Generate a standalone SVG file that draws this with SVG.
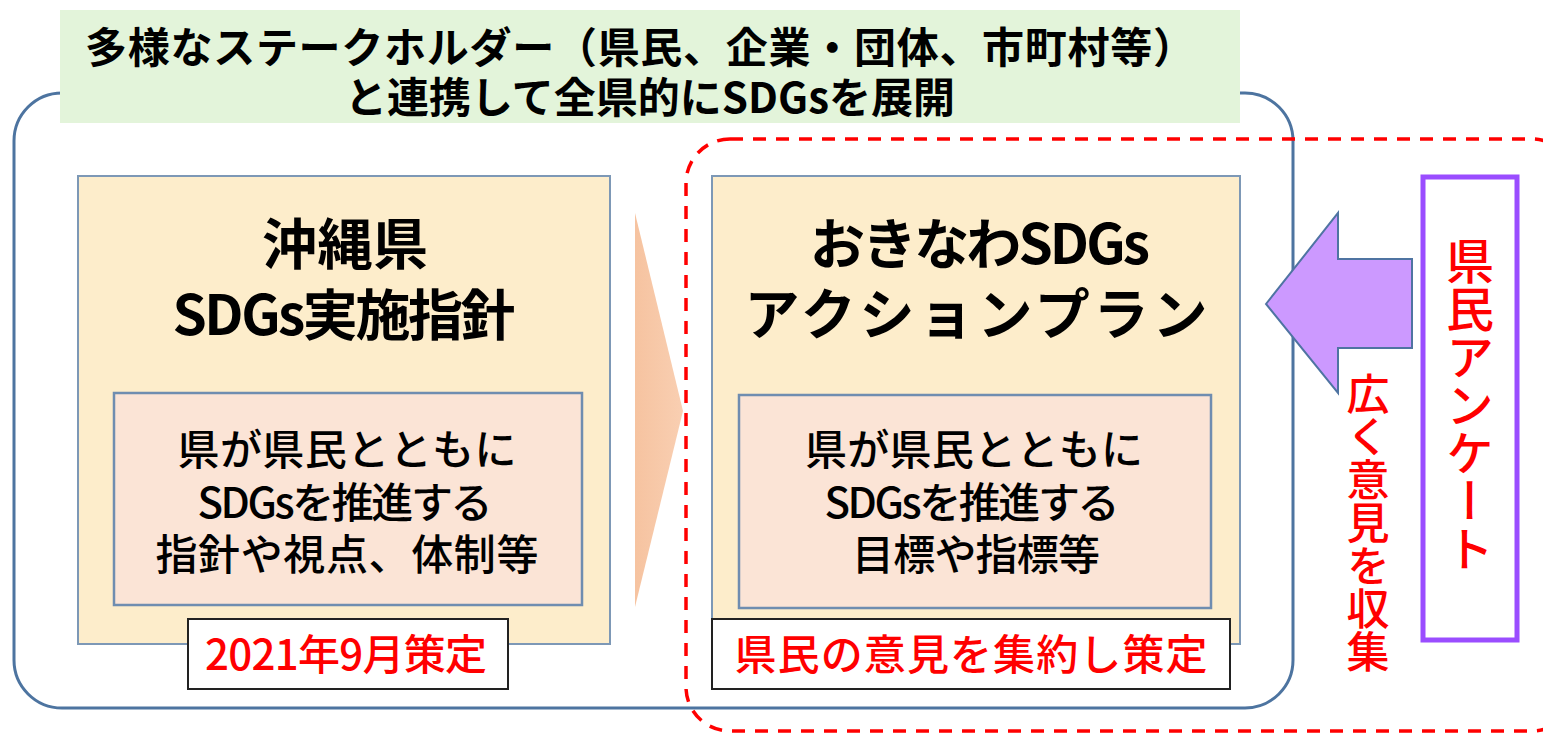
<svg xmlns="http://www.w3.org/2000/svg" width="1543" height="734" viewBox="0 0 1543 734">
<style>
  .jp { font-family: "Noto Sans CJK JP", "Noto Sans CJK SC", sans-serif; }
  .banner { font-size: 42px; font-weight: 700; fill: #000; text-anchor: middle; }
  .title { font-size: 55px; font-weight: 700; fill: #000; text-anchor: middle; }
  .body { font-size: 42px; font-weight: 500; fill: #000; text-anchor: middle; }
  .red { font-size: 42px; font-weight: 500; fill: #ff0000; text-anchor: middle; }
  .vred { font-weight: 500; fill: #ff0000; writing-mode: vertical-rl; }
  .panel { fill: #fdedcb; stroke: #7d98b6; stroke-width: 2; }
  .inner { fill: #fbe4d6; stroke: #6f8db0; stroke-width: 2.5; }
  .label { fill: #ffffff; stroke: #222222; stroke-width: 2; }
</style>
<defs>
  <linearGradient id="chev" x1="0" y1="0" x2="1" y2="0">
    <stop offset="0" stop-color="#f6c3a0"/>
    <stop offset="1" stop-color="#f9cfb2"/>
  </linearGradient>
</defs>

<g id="outer-frame">
  <rect x="14" y="93" width="1279" height="615" rx="48" ry="48" fill="#ffffff" stroke="#4d74a0" stroke-width="3"/>
</g>

<g id="banner">
  <rect x="60" y="10" width="1180" height="113" fill="#e3f4da"/>
  <text class="jp banner"><tspan x="640" y="63" textLength="1110">多様なステークホルダー（県民、企業・団体、市町村等）</tspan><tspan x="650" y="113" textLength="610">と連携して全県的にSDGsを展開</tspan></text>
</g>

<g id="left-panel">
  <rect class="panel" x="78" y="176" width="532" height="468"/>
  <text class="jp title"><tspan x="345" y="264" textLength="166">沖縄県</tspan><tspan x="344" y="335" textLength="343">SDGs実施指針</tspan></text>
  <rect class="inner" x="114" y="393" width="468" height="212"/>
  <text class="jp body"><tspan x="347" y="465" textLength="339">県が県民とともに</tspan><tspan x="345" y="518" textLength="295">SDGsを推進する</tspan><tspan x="347" y="570" textLength="383">指針や視点、体制等</tspan></text>
</g>

<g id="left-label">
  <rect class="label" x="188" y="619" width="320" height="70"/>
  <text class="jp red" x="346" y="670" textLength="282">2021年9月策定</text>
</g>

<g id="chevron">
  <polygon points="635,213 683,411 635,607" fill="url(#chev)"/>
</g>

<g id="right-panel">
  <rect class="panel" x="712" y="176" width="528" height="468"/>
  <text class="jp title"><tspan x="980" y="264" textLength="340">おきなわSDGs</tspan><tspan x="976" y="334" textLength="463">アクションプラン</tspan></text>
  <rect class="inner" x="739" y="395" width="472" height="213"/>
  <text class="jp body"><tspan x="974" y="465" textLength="338">県が県民とともに</tspan><tspan x="972" y="518" textLength="295">SDGsを推進する</tspan><tspan x="976" y="570" textLength="248">目標や指標等</tspan></text>
</g>

<g id="right-label">
  <rect class="label" x="712" y="619" width="518" height="70"/>
  <text class="jp red" x="971" y="670" textLength="473">県民の意見を集約し策定</text>
</g>

<g id="connectors">
  <rect x="686" y="139" width="890" height="592" rx="44" ry="44" fill="none" stroke="#ff0000" stroke-width="3.5" stroke-dasharray="13 10"/>
  <polygon points="1266,304 1338,213 1338,259 1412,259 1412,348 1338,348 1338,393" fill="#cc99ff" stroke="#4f74a2" stroke-width="2"/>
</g>

<g id="survey">
  <rect x="1423" y="177" width="94" height="463" fill="#ffffff" stroke="#9a4dff" stroke-width="5"/>
  <text class="jp vred" x="1470" y="237" font-size="48">県民アンケート</text>
</g>

<g id="collect-label">
  <text class="jp vred" x="1368" y="372" font-size="43">広く意見を収集</text>
</g>
</svg>
